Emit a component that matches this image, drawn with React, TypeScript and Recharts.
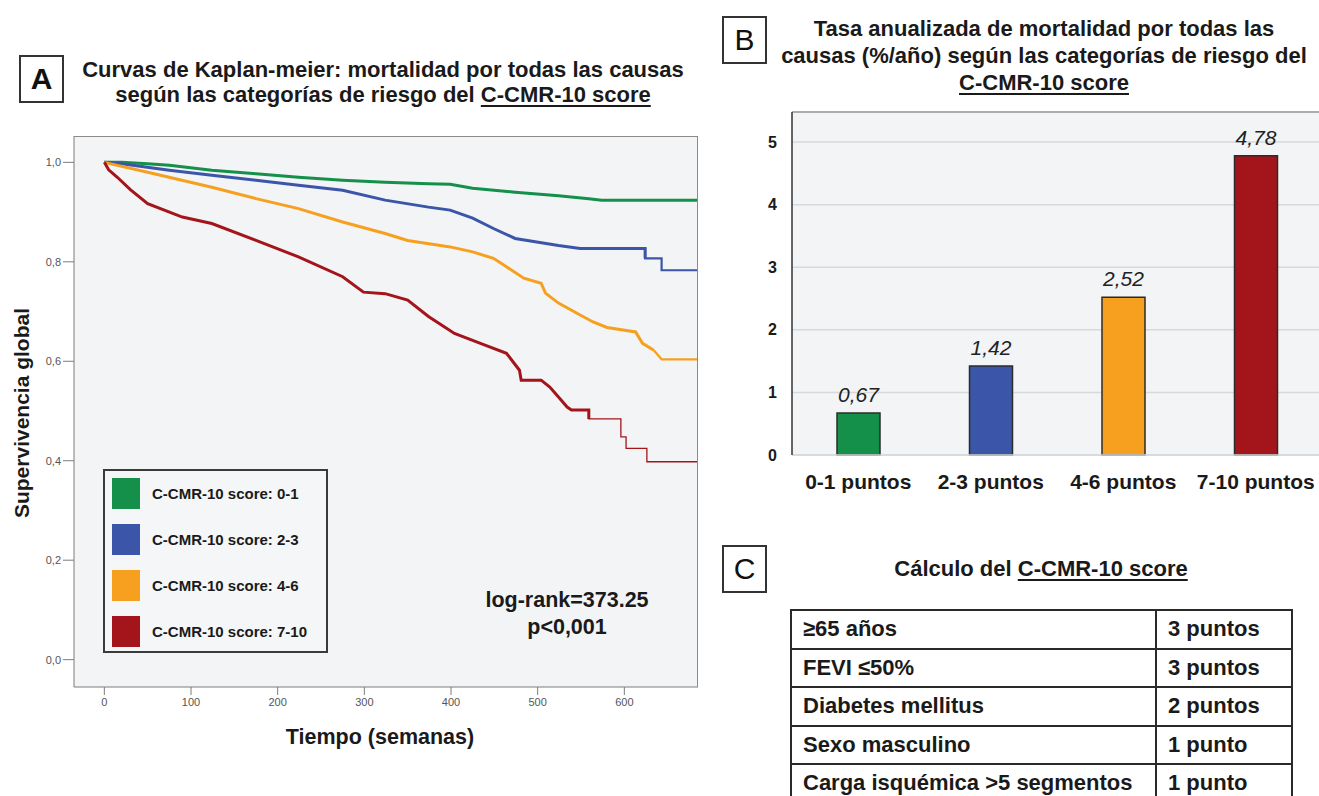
import React from 'react';
import {
  LineChart,
  Line,
  XAxis,
  YAxis,
  CartesianGrid,
  BarChart,
  Bar,
  Cell,
  LabelList,
  ReferenceLine,
} from 'recharts';

const FONT = '"Liberation Sans", Arial, Helvetica, sans-serif';

// Panel A: Kaplan-Meier curves, [semanas, supervivencia]
const seriesNames = ['C-CMR-10 score: 0-1', 'C-CMR-10 score: 2-3', 'C-CMR-10 score: 4-6', 'C-CMR-10 score: 7-10'];
const seriesColors = ['#14904a', '#3b55a8', '#f7a01f', '#a3151b'];

const kmScore01 = [
  [0, 1], [20, 1], [50, 0.997], [75, 0.994], [124, 0.984], [175, 0.977], [224, 0.97], [275, 0.964],
  [324, 0.96], [374, 0.957], [399, 0.956], [425, 0.948], [474, 0.94], [524, 0.933], [559, 0.927],
  [574, 0.924], [685, 0.924],
];
const kmScore23 = [
  [0, 1], [20, 0.997], [75, 0.984], [124, 0.974], [175, 0.964], [224, 0.954], [275, 0.944], [324, 0.924],
  [374, 0.91], [399, 0.904], [425, 0.888], [449, 0.867], [474, 0.847], [499, 0.84], [524, 0.833],
  [549, 0.827], [624, 0.827], [624, 0.807], [643, 0.807], [643, 0.783], [685, 0.783],
];
const kmScore46 = [
  [0, 1], [50, 0.98], [124, 0.95], [175, 0.927], [224, 0.907], [275, 0.88], [324, 0.857], [350, 0.843],
  [399, 0.83], [425, 0.82], [449, 0.807], [464, 0.79], [484, 0.767], [504, 0.757], [509, 0.737],
  [524, 0.717], [549, 0.693], [564, 0.679], [580, 0.668], [613, 0.659], [621, 0.636], [634, 0.622],
  [643, 0.604], [685, 0.604],
];
const kmScore710 = [
  [0, 1], [5, 0.985], [15, 0.97], [30, 0.945], [50, 0.917], [90, 0.89], [124, 0.877], [175, 0.843],
  [224, 0.81], [275, 0.77], [299, 0.739], [324, 0.736], [350, 0.723], [374, 0.69], [404, 0.656],
  [440, 0.632], [464, 0.616], [479, 0.582], [481, 0.562], [504, 0.562], [514, 0.548], [524, 0.528],
  [534, 0.508], [539, 0.502], [559, 0.502], [559, 0.484], [596, 0.484], [596, 0.448], [602, 0.448],
  [602, 0.425], [626, 0.425], [626, 0.398], [685, 0.398],
];
const kmSeries = [kmScore01, kmScore23, kmScore46, kmScore710];
// week where each curve turns into its sparse, thinner tail
const tailFrom = [999, 624, 634, 559];

const weekTicks = [0, 100, 200, 300, 400, 500, 600];
const survivalTicks = [0, 0.2, 0.4, 0.6, 0.8, 1.0];

// Panel B: tasa anualizada de mortalidad
const rateCategories = ['0-1 puntos', '2-3 puntos', '4-6 puntos', '7-10 puntos'];
const rateValues = [0.67, 1.42, 2.52, 4.78];
const rateTicks = [0, 1, 2, 3, 4, 5];

// Panel C: tabla del score
const scoreFactors = ['≥65 años', 'FEVI ≤50%', 'Diabetes mellitus', 'Sexo masculino', 'Carga isquémica >5 segmentos'];
const scorePoints = ['3 puntos', '3 puntos', '2 puntos', '1 punto', '1 punto'];

const comma = (v: number, d: number) => v.toFixed(d).replace('.', ',');

const PanelBox = ({ letter, left, top, bold }: { letter: string; left: number; top: number; bold?: boolean }) => (
  <div
    style={{
      position: 'absolute',
      left,
      top,
      width: 41,
      height: 44,
      border: '2px solid #333',
      fontSize: 30,
      fontWeight: bold ? 700 : 400,
      lineHeight: '44px',
      textAlign: 'center',
      color: '#111',
    }}
  >
    {letter}
  </div>
);

const u = { textDecoration: 'underline', textDecorationThickness: 2, textUnderlineOffset: 3 } as const;

export default function App() {
  const rateData = rateCategories.map((c, i) => ({ cat: c, value: rateValues[i] }));

  return (
    <div
      style={{
        position: 'absolute',
        left: 0,
        top: 0,
        width: 1319,
        height: 796,
        overflow: 'hidden',
        background: '#fff',
        fontFamily: FONT,
        color: '#1a1a1a',
      }}
    >
      {/* ---------- Panel A ---------- */}
      <div style={{ position: 'absolute', left: 0, top: 0 }}>
        <LineChart width={720} height={796} margin={{ top: 136, right: 22, bottom: 79, left: 14 }}>
          <CartesianGrid horizontal={false} vertical={false} fill="#f2f4f6" />
          <XAxis
            type="number"
            dataKey="t"
            domain={[-35, 685]}
            ticks={weekTicks}
            allowDataOverflow
            height={30}
            stroke="#7d7d7d"
            tickSize={8}
            tickMargin={3}
            tick={{ fontSize: 11, fill: '#555', fontFamily: FONT }}
          />
          <YAxis
            type="number"
            dataKey="s"
            domain={[-0.055, 1.053]}
            ticks={survivalTicks}
            allowDataOverflow
            width={60}
            stroke="#7d7d7d"
            tickSize={11}
            tickMargin={2}
            tickFormatter={(v: number) => comma(v, 1)}
            tick={{ fontSize: 11, fill: '#555', fontFamily: FONT }}
          />
          {kmSeries.map((pts, i) => (
            <Line
              key={seriesNames[i]}
              name={seriesNames[i]}
              data={pts.filter(([t]) => t <= tailFrom[i]).map(([t, s]) => ({ t, s }))}
              dataKey="s"
              type="linear"
              stroke={seriesColors[i]}
              strokeWidth={3}
              strokeLinejoin="miter"
              dot={false}
              isAnimationActive={false}
            />
          ))}
          {kmSeries.map((pts, i) => (
            <Line
              key={seriesNames[i] + '-tail'}
              name={seriesNames[i]}
              data={pts.filter(([t]) => t >= tailFrom[i]).map(([t, s]) => ({ t, s }))}
              dataKey="s"
              type="linear"
              stroke={seriesColors[i]}
              strokeWidth={i === 3 ? 1.3 : 2.2}
              dot={false}
              isAnimationActive={false}
            />
          ))}
        </LineChart>
      </div>
      {/* plot frame */}
      <div
        style={{
          position: 'absolute',
          left: 74,
          top: 136,
          width: 623,
          height: 550,
          borderTop: '1px solid #8a8a8a',
          borderRight: '1.5px solid #8a8a8a',
          pointerEvents: 'none',
        }}
      />
      <PanelBox letter="A" left={19} top={55} bold />
      <div
        style={{
          position: 'absolute',
          left: 53,
          top: 57,
          width: 660,
          textAlign: 'center',
          fontSize: 22,
          fontWeight: 700,
          lineHeight: '25px',
          whiteSpace: 'nowrap',
        }}
      >
        Curvas de Kaplan-meier: mortalidad por todas las causas
        <br />
        según las categorías de riesgo del <span style={u}>C-CMR-10 score</span>
      </div>
      <div
        style={{
          position: 'absolute',
          left: 22,
          top: 413,
          transform: 'translate(-50%, -50%) rotate(-90deg)',
          whiteSpace: 'nowrap',
          fontSize: 21,
          fontWeight: 700,
        }}
      >
        Supervivencia global
      </div>
      <div
        style={{
          position: 'absolute',
          left: 380,
          top: 737,
          transform: 'translate(-50%, -50%)',
          whiteSpace: 'nowrap',
          fontSize: 21.5,
          fontWeight: 700,
        }}
      >
        Tiempo (semanas)
      </div>
      {/* legend */}
      <div
        style={{
          position: 'absolute',
          left: 103,
          top: 469,
          width: 221,
          height: 180,
          border: '2px solid #3a3a3a',
          background: '#f4f6f7',
        }}
      >
        {seriesNames.map((n, i) => (
          <div
            key={n}
            style={{
              position: 'absolute',
              left: 7,
              top: 7 + i * 46,
              height: 31,
              display: 'flex',
              alignItems: 'center',
            }}
          >
            <div style={{ width: 28, height: 31, background: seriesColors[i] }} />
            <span style={{ marginLeft: 12, fontSize: 15, fontWeight: 700, whiteSpace: 'nowrap' }}>{n}</span>
          </div>
        ))}
      </div>
      <div
        style={{
          position: 'absolute',
          left: 567,
          top: 614,
          transform: 'translate(-50%, -50%)',
          textAlign: 'center',
          fontSize: 21.5,
          fontWeight: 700,
          lineHeight: '27px',
          whiteSpace: 'nowrap',
        }}
      >
        log-rank=373.25
        <br />
        p&lt;0,001
      </div>

      {/* ---------- Panel B ---------- */}
      <div style={{ position: 'absolute', left: 720, top: 90 }}>
        <BarChart width={620} height={420} data={rateData} margin={{ top: 22, right: 18, bottom: 15, left: 32 }}>
          <CartesianGrid vertical={false} stroke="#d6dadd" strokeWidth={1.5} fill="#f2f4f6" />
          <XAxis
            dataKey="cat"
            height={40}
            axisLine={{ stroke: '#d6dadd', strokeWidth: 1.5 }}
            tickLine={false}
            tickMargin={13}
            interval={0}
            tick={{ fontSize: 21, fontWeight: 700, fill: '#1a1a1a', fontFamily: FONT }}
          />
          <YAxis
            type="number"
            domain={[0, 5.48]}
            ticks={rateTicks}
            width={40}
            axisLine={{ stroke: '#333', strokeWidth: 1.5 }}
            tickLine={false}
            tickMargin={9}
            tick={{ fontSize: 16, fontWeight: 700, fill: '#1a1a1a', fontFamily: FONT }}
          />
          <ReferenceLine y={5.48} stroke="#9a9a9a" strokeWidth={1.5} />
          <Bar dataKey="value" barSize={43} stroke="#2b2b2b" strokeWidth={1.5} isAnimationActive={false}>
            {rateData.map((d, i) => (
              <Cell key={d.cat} fill={seriesColors[i]} />
            ))}
            <LabelList
              dataKey="value"
              position="top"
              offset={11}
              formatter={(v: number) => comma(v, 2)}
              style={{ fontSize: 21, fontStyle: 'italic', fill: '#222', fontFamily: FONT }}
            />
          </Bar>
        </BarChart>
      </div>
      <PanelBox letter="B" left={722} top={16} />
      <div
        style={{
          position: 'absolute',
          left: 744,
          top: 15,
          width: 600,
          textAlign: 'center',
          fontSize: 22,
          fontWeight: 700,
          lineHeight: '27px',
        }}
      >
        Tasa anualizada de mortalidad por todas las
        <br />
        causas (%/año) según las categorías de riesgo del
        <br />
        <span style={u}>C-CMR-10 score</span>
      </div>

      {/* ---------- Panel C ---------- */}
      <PanelBox letter="C" left={722} top={545} />
      <div
        style={{
          position: 'absolute',
          left: 1041,
          top: 569,
          transform: 'translate(-50%, -50%)',
          whiteSpace: 'nowrap',
          fontSize: 22,
          fontWeight: 700,
        }}
      >
        Cálculo del <span style={u}>C-CMR-10 score</span>
      </div>
      <table
        style={{
          position: 'absolute',
          left: 790,
          top: 609,
          width: 503,
          borderCollapse: 'collapse',
          fontSize: 22,
          fontWeight: 700,
          fontFamily: FONT,
          color: '#1a1a1a',
        }}
      >
        <tbody>
          {scoreFactors.map((f, i) => (
            <tr key={f} style={{ height: 38.5 }}>
              <td style={{ border: '2px solid #2a2a2a', padding: '0 0 0 11px', width: 352, whiteSpace: 'nowrap' }}>{f}</td>
              <td style={{ border: '2px solid #2a2a2a', padding: '0 0 0 11px', whiteSpace: 'nowrap' }}>{scorePoints[i]}</td>
            </tr>
          ))}
        </tbody>
      </table>
    </div>
  );
}
